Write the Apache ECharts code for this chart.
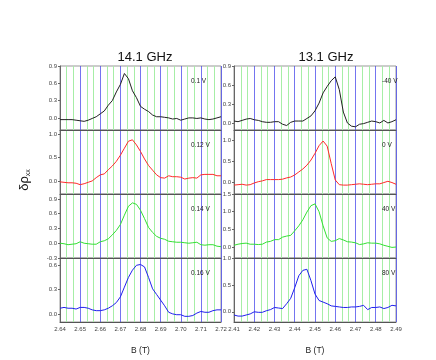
<!DOCTYPE html>
<html>
<head>
<meta charset="utf-8">
<script src="https://cdn.jsdelivr.net/npm/echarts@6/dist/echarts.min.js"></script>
<style>
  html, body {margin: 0; padding: 0; background: #fff;}
  #chart {width: 436px; height: 360px;}
</style>
</head>
<body>
<div id="chart"></div>
<script>
// magnetic field (T), both frequencies
const bLeft = [2.640, 2.642, 2.644, 2.646, 2.648, 2.650, 2.652, 2.654, 2.656, 2.658, 2.660, 2.662, 2.664, 2.666, 2.668, 2.670, 2.672, 2.674, 2.676, 2.678, 2.680, 2.682, 2.684, 2.686, 2.688, 2.690, 2.692, 2.694, 2.696, 2.698, 2.700, 2.702, 2.704, 2.706, 2.708, 2.710, 2.712, 2.714, 2.716, 2.718, 2.720]
const bRight = [2.410, 2.412, 2.414, 2.416, 2.418, 2.420, 2.422, 2.424, 2.426, 2.428, 2.430, 2.432, 2.434, 2.436, 2.438, 2.440, 2.442, 2.444, 2.446, 2.448, 2.450, 2.452, 2.454, 2.456, 2.458, 2.460, 2.462, 2.464, 2.466, 2.468, 2.470, 2.472, 2.474, 2.476, 2.478, 2.480, 2.482, 2.484, 2.486, 2.488, 2.490]

// 14.1 GHz
const v01 = [-0.03, -0.03, -0.03, -0.03, -0.04, -0.05, -0.06, -0.04, -0.01, 0.02, 0.07, 0.12, 0.22, 0.30, 0.45, 0.58, 0.77, 0.68, 0.47, 0.35, 0.20, 0.15, 0.11, 0.05, 0.02, 0.02, 0.01, 0.00, -0.02, -0.01, -0.04, -0.02, 0.00, 0.00, -0.01, 0.00, -0.02, -0.03, -0.02, 0.00, 0.02]
const v012 = [-0.02, -0.03, -0.04, -0.04, -0.05, -0.08, -0.06, -0.03, 0.00, 0.07, 0.13, 0.15, 0.24, 0.32, 0.42, 0.55, 0.70, 0.85, 0.88, 0.77, 0.63, 0.47, 0.33, 0.23, 0.13, 0.07, 0.06, 0.11, 0.09, 0.09, 0.08, 0.04, 0.06, 0.07, 0.06, 0.13, 0.14, 0.14, 0.14, 0.11, 0.11]
const v014 = [0.00, -0.01, -0.03, -0.02, -0.01, 0.03, 0.00, -0.01, -0.02, -0.02, 0.03, 0.05, 0.09, 0.17, 0.26, 0.38, 0.57, 0.75, 0.82, 0.79, 0.67, 0.50, 0.32, 0.22, 0.14, 0.10, 0.08, 0.04, 0.03, 0.02, 0.02, 0.01, 0.00, 0.01, 0.02, -0.03, -0.04, -0.03, -0.03, -0.06, -0.07]
const v016 = [0.07, 0.08, 0.07, 0.07, 0.06, 0.08, 0.08, 0.07, 0.05, 0.04, 0.04, 0.05, 0.07, 0.10, 0.14, 0.21, 0.33, 0.45, 0.54, 0.60, 0.61, 0.58, 0.45, 0.31, 0.24, 0.17, 0.10, 0.02, 0.00, -0.01, -0.01, -0.03, -0.03, -0.02, 0.01, 0.03, 0.02, 0.02, 0.04, 0.05, 0.05]

// 13.1 GHz
const vm40 = [0.04, 0.03, 0.05, 0.07, 0.08, 0.06, 0.05, 0.03, 0.02, 0.02, 0.03, 0.03, -0.01, -0.03, 0.02, 0.04, 0.04, 0.04, 0.08, 0.12, 0.20, 0.32, 0.48, 0.58, 0.67, 0.73, 0.53, 0.18, 0.01, -0.04, -0.05, -0.01, 0.00, 0.02, 0.04, 0.03, 0.01, 0.05, 0.01, 0.03, 0.06]
const v0 = [-0.06, -0.05, -0.04, -0.06, -0.05, -0.01, 0.02, 0.04, 0.07, 0.07, 0.07, 0.07, 0.08, 0.11, 0.13, 0.18, 0.25, 0.32, 0.41, 0.53, 0.69, 0.87, 0.98, 0.86, 0.45, 0.06, -0.05, -0.06, -0.06, -0.05, -0.04, -0.03, -0.04, -0.05, -0.04, -0.03, -0.03, 0.00, 0.03, 0.00, -0.04]
const v40 = [0.05, 0.08, 0.10, 0.11, 0.08, 0.08, 0.07, 0.08, 0.14, 0.16, 0.21, 0.21, 0.28, 0.31, 0.33, 0.46, 0.60, 0.77, 0.99, 1.17, 1.22, 1.00, 0.60, 0.26, 0.16, 0.18, 0.24, 0.20, 0.15, 0.14, 0.12, 0.07, 0.09, 0.12, 0.11, 0.11, 0.09, 0.05, 0.02, -0.01, 0.00]
const v80 = [-0.06, -0.08, -0.08, -0.06, -0.04, 0.00, -0.01, -0.01, 0.02, 0.04, 0.08, 0.07, 0.06, 0.15, 0.25, 0.45, 0.67, 0.77, 0.79, 0.58, 0.33, 0.21, 0.18, 0.15, 0.11, 0.10, 0.09, 0.08, 0.08, 0.09, 0.09, 0.10, 0.12, 0.04, 0.08, 0.08, 0.09, 0.06, 0.08, 0.12, 0.11]

const leftLabels = ['0.1 V', '0.12 V', '0.14 V', '0.16 V']
const rightLabels = ['-40 V', '0 V', '40 V', '80 V']
const leftTicks = [[0, 0.3, 0.6, 0.9], [0, 0.5, 1.0], [-0.3, 0, 0.3, 0.6, 0.9], [0, 0.3, 0.6]]
const rightTicks = [[0, 0.3, 0.6, 0.9], [0, 0.5, 1.0], [0, 0.5, 1.0, 1.5], [0, 0.5, 1.0]]
const leftRange = [[-0.21, 0.9], [-0.28, 1.09], [-0.3, 1.0], [-0.1, 0.69]]
const rightRange = [[-0.1, 0.9], [-0.27, 1.24], [-0.31, 1.5], [-0.19, 1.0]]
const lineColors = ['#222222', '#ff2a2a', '#33e033', '#2020ee']

const leftData = [v01, v012, v014, v016]
const rightData = [vm40, v0, v40, v80]

const font = 'Liberation Sans, Arial, sans-serif'
const rowTop = [66, 130, 194, 258]
const rowH = 64

const grids = []
const xAxes = []
const yAxes = []
const series = []
const titles = [
  {text: '14.1 GHz', left: 140, top: 46, textAlign: 'center', textStyle: {fontSize: 13, fontWeight: 'normal', color: '#111', fontFamily: font}},
  {text: '13.1 GHz', left: 321, top: 46, textAlign: 'center', textStyle: {fontSize: 13, fontWeight: 'normal', color: '#111', fontFamily: font}}
]

function addPanel (col, row) {
  const idx = grids.length
  const isLeft = col === 0
  const bottom = row === 3
  grids.push({
    left: isLeft ? 60 : 234,
    top: rowTop[row],
    width: isLeft ? 161 : 162,
    height: rowH,
    show: true,
    borderColor: '#999',
    borderWidth: 1
  })
  xAxes.push({
    type: 'value',
    gridIndex: idx,
    position: 'bottom',
    min: isLeft ? 2.64 : 2.41,
    max: isLeft ? 2.72 : 2.49,
    interval: 0.01,
    name: bottom ? 'B (T)' : '',
    nameLocation: 'middle',
    nameGap: 24,
    nameTextStyle: {fontSize: 8.5, color: '#222', fontFamily: font},
    axisLine: {show: true, onZero: false, lineStyle: {color: '#555', width: 1}},
    axisTick: {show: false},
    minorTick: {show: false, splitNumber: 3},
    axisLabel: {
      show: bottom,
      fontSize: 6,
      color: '#444',
      margin: 4,
      fontFamily: font,
      formatter: v => v.toFixed(2)
    },
    splitLine: {show: true, lineStyle: {color: 'rgba(70,70,235,0.75)', width: 1}},
    minorSplitLine: {show: true, lineStyle: {color: '#a6eea6', width: 1}}
  })
  const rng = isLeft ? leftRange[row] : rightRange[row]
  const ticks = isLeft ? leftTicks[row] : rightTicks[row]
  yAxes.push({
    type: 'value',
    gridIndex: idx,
    min: rng[0],
    max: rng[1],
    axisLine: {show: true, onZero: false, lineStyle: {color: '#666', width: 1}},
    axisTick: {show: true, length: 2, customValues: ticks, lineStyle: {color: '#666'}},
    axisLabel: {
      show: true,
      customValues: ticks,
      fontSize: 6,
      color: '#444',
      margin: 3,
      fontFamily: font,
      formatter: v => v.toFixed(1)
    },
    splitLine: {show: false}
  })
  const xs = isLeft ? bLeft : bRight
  const ys = isLeft ? leftData[row] : rightData[row]
  series.push({
    type: 'line',
    xAxisIndex: idx,
    yAxisIndex: idx,
    data: xs.map((b, i) => [b, ys[i]]),
    showSymbol: false,
    symbol: 'none',
    lineStyle: {color: lineColors[row], width: 1},
    z: 5
  })
  titles.push({
    text: isLeft ? leftLabels[row] : rightLabels[row],
    left: isLeft ? 186 : 377,
    top: rowTop[row] + 7,
    textStyle: {fontSize: 6.5, fontWeight: 'normal', color: '#222', fontFamily: font}
  })
}

for (let r = 0; r < 4; r++) {
  addPanel(0, r)
  addPanel(1, r)
}

const chart = echarts.init(document.getElementById('chart'), null, {renderer: 'canvas'})
chart.setOption({
  animation: false,
  backgroundColor: '#fff',
  title: titles,
  grid: grids,
  xAxis: xAxes,
  yAxis: yAxes,
  series: series,
  graphic: [{
    type: 'text',
    x: 24,
    y: 180,
    rotation: Math.PI / 2,
    style: {
      text: '{a|δρ}{s|xx}',
      align: 'center',
      verticalAlign: 'middle',
      rich: {
        a: {fontSize: 13, fontFamily: font, fill: '#111', lineHeight: 16},
        s: {fontSize: 7, fontFamily: font, fill: '#111', verticalAlign: 'bottom', lineHeight: 16}
      }
    }
  }]
})
</script>
</body>
</html>
